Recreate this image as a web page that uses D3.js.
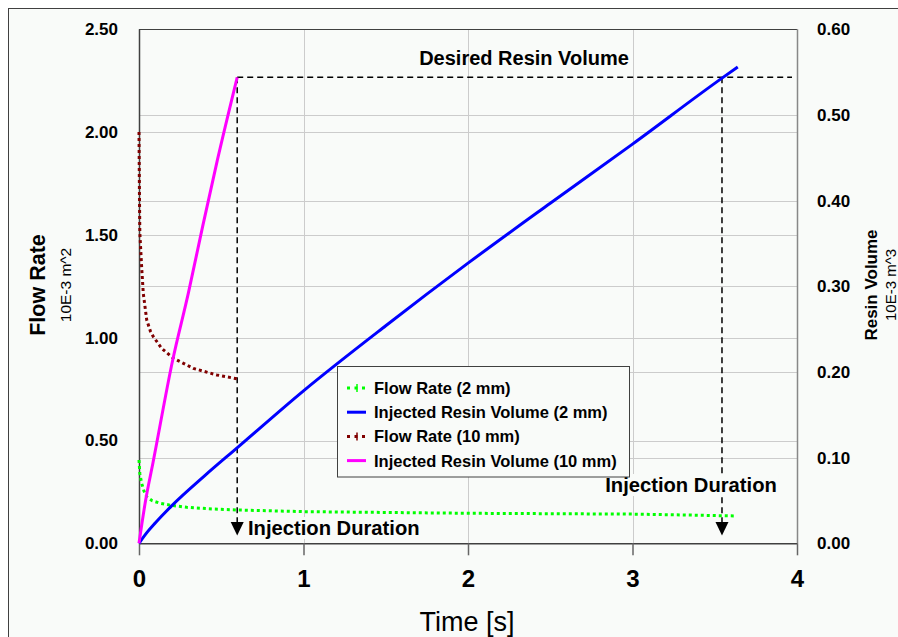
<!DOCTYPE html>
<html>
<head>
<meta charset="utf-8">
<script src="https://cdn.jsdelivr.net/npm/d3@7/dist/d3.min.js"></script>
<style>
  html, body { margin: 0; padding: 0; background: #ffffff; }
  svg { display: block; }
  text { font-family: "Liberation Sans", Arial, sans-serif; fill: #000; }
</style>
</head>
<body>
<svg id="chart" width="898" height="637"></svg>
<script>
// ---------- data ----------
const xTicks = [0, 1, 2, 3, 4];
const leftTicks = [0, 0.5, 1.0, 1.5, 2.0, 2.5];
const rightTicks = [0, 0.1, 0.2, 0.3, 0.4, 0.5, 0.6];

// Flow Rate (2 mm) [left axis, 10E-3 m^2]
const flow2mm = [
  [0, 0.405], [0.005, 0.34], [0.016, 0.292], [0.03, 0.255], [0.047, 0.227],
  [0.08, 0.207], [0.128, 0.195], [0.2, 0.184], [0.29, 0.175], [0.45, 0.167],
  [0.6, 0.162], [1.0, 0.154], [1.5, 0.150], [2.0, 0.146], [2.5, 0.144],
  [3.0, 0.142], [3.3, 0.138], [3.63, 0.133]
];
// Injected Resin Volume (2 mm) [right axis, 10E-3 m^3]
const volume2mm = [
  [0, 0], [0.05, 0.013], [0.1, 0.024], [0.2, 0.044], [0.4, 0.079],
  [0.6, 0.112], [1.0, 0.178], [1.5, 0.254], [2.0, 0.327], [2.5, 0.397],
  [3.0, 0.466], [3.544, 0.543], [3.64, 0.556]
];
// Flow Rate (10 mm) [left axis]
const flow10mm = [
  [0, 2.00], [0.003, 1.67], [0.005, 1.51], [0.016, 1.345], [0.026, 1.216],
  [0.047, 1.086], [0.07, 1.03], [0.087, 1.005], [0.138, 0.948], [0.209, 0.90],
  [0.33, 0.851], [0.472, 0.819], [0.597, 0.800]
];
// Injected Resin Volume (10 mm) [right axis]
const volume10mm = [
  [0, 0], [0.04, 0.05], [0.085, 0.094], [0.205, 0.214], [0.30, 0.292],
  [0.387, 0.370], [0.476, 0.447], [0.597, 0.544]
];

const desiredVolume = 0.544;
const injectionDurations = [0.597, 3.544];

const legendLabels = [
  "Flow Rate (2 mm)",
  "Injected Resin Volume (2 mm)",
  "Flow Rate (10 mm)",
  "Injected Resin Volume (10 mm)"
];

// ---------- layout ----------
const svg = d3.select("#chart");
const plot = { left: 139, right: 797, top: 29.3, bottom: 543.3 };
const bg = "#f9fbf9";

const x = d3.scaleLinear().domain([0, 4]).range([plot.left, plot.right]);
const yL = d3.scaleLinear().domain([0, 2.5]).range([plot.bottom, plot.top]);
const yR = d3.scaleLinear().domain([0, 0.6]).range([plot.bottom, plot.top]);

// outer frame
svg.append("rect").attr("x", 8.5).attr("y", 8.5).attr("width", 1000).attr("height", 1000)
  .attr("fill", bg).attr("stroke", "#404040").attr("stroke-width", 1);

// grid
const grid = svg.append("g").attr("stroke", "#cccccc").attr("stroke-width", 1).attr("shape-rendering", "crispEdges");
leftTicks.forEach(v => grid.append("line").attr("x1", plot.left).attr("x2", plot.right)
  .attr("y1", Math.round(yL(v)) + 0.5).attr("y2", Math.round(yL(v)) + 0.5));
rightTicks.forEach(v => grid.append("line").attr("x1", plot.left).attr("x2", plot.right)
  .attr("y1", Math.round(yR(v)) + 0.5).attr("y2", Math.round(yR(v)) + 0.5));
xTicks.forEach(v => grid.append("line").attr("x1", Math.round(x(v)) + 0.5).attr("x2", Math.round(x(v)) + 0.5)
  .attr("y1", plot.top).attr("y2", plot.bottom));

// plot border (top/left dark, right gray)
svg.append("line").attr("x1", plot.left).attr("x2", plot.right).attr("y1", 29.5).attr("y2", 29.5)
  .attr("stroke", "#404040");
svg.append("line").attr("x1", plot.right + 0.5).attr("x2", plot.right + 0.5).attr("y1", plot.top).attr("y2", plot.bottom)
  .attr("stroke", "#888888").attr("stroke-width", 1.5);
svg.append("line").attr("x1", plot.left + 0.5).attr("x2", plot.left + 0.5).attr("y1", plot.top).attr("y2", plot.bottom)
  .attr("stroke", "#404040").attr("stroke-width", 1.5);

// axes
const xAxis = svg.append("g").attr("transform", `translate(0,${plot.bottom})`)
  .call(d3.axisBottom(x).tickValues(xTicks).tickSize(12).tickSizeOuter(0).tickPadding(15).tickFormat(d3.format("d")));
xAxis.select(".domain").attr("stroke", "#404040").attr("stroke-width", 1.5);
xAxis.selectAll(".tick line").attr("stroke", "#666666").attr("stroke-width", 1.5);
xAxis.selectAll(".tick text").attr("font-size", 24).attr("font-weight", "bold")
  .attr("font-family", "Liberation Sans, Arial, sans-serif").attr("fill", "#000");

const lAxis = svg.append("g").attr("transform", `translate(${plot.left},0)`)
  .call(d3.axisLeft(yL).tickValues(leftTicks).tickSize(0).tickPadding(21).tickFormat(d3.format(".2f")));
lAxis.select(".domain").remove();
lAxis.selectAll(".tick text").attr("font-size", 17).attr("font-weight", "bold")
  .attr("font-family", "Liberation Sans, Arial, sans-serif").attr("fill", "#000");

const rAxis = svg.append("g").attr("transform", `translate(${plot.right},0)`)
  .call(d3.axisRight(yR).tickValues(rightTicks).tickSize(0).tickPadding(20).tickFormat(d3.format(".2f")));
rAxis.select(".domain").remove();
rAxis.selectAll(".tick text").attr("font-size", 17).attr("font-weight", "bold")
  .attr("font-family", "Liberation Sans, Arial, sans-serif").attr("fill", "#000");

// dashed reference lines
const dash = svg.append("g").attr("stroke", "#000").attr("stroke-width", 1.5)
  .attr("stroke-dasharray", "6,4").attr("fill", "none");
dash.append("line").attr("x1", x(injectionDurations[0])).attr("x2", 792)
  .attr("y1", yR(desiredVolume)).attr("y2", yR(desiredVolume));
injectionDurations.forEach(t => dash.append("line").attr("x1", x(t)).attr("x2", x(t))
  .attr("y1", yR(desiredVolume)).attr("y2", 522));

// series
const lineL = d3.line().x(d => x(d[0])).y(d => yL(d[1]));
const lineR = d3.line().x(d => x(d[0])).y(d => yR(d[1])).curve(d3.curveMonotoneX);

svg.append("path").datum(flow2mm).attr("d", lineL).attr("fill", "none")
  .attr("stroke", "#00ff00").attr("stroke-width", 3).attr("stroke-dasharray", "3,3");
svg.append("path").datum(flow10mm).attr("d", lineL).attr("fill", "none")
  .attr("stroke", "#800000").attr("stroke-width", 3).attr("stroke-dasharray", "3,3");
svg.append("path").datum(volume2mm).attr("d", lineR).attr("fill", "none")
  .attr("stroke", "#0000ff").attr("stroke-width", 3).attr("stroke-linejoin", "round");
svg.append("path").datum(volume10mm).attr("d", lineR).attr("fill", "none")
  .attr("stroke", "#ff00ff").attr("stroke-width", 3).attr("stroke-linejoin", "round");

// arrows
injectionDurations.forEach(t => {
  const cx = x(t);
  svg.append("path").attr("d", `M${cx - 6.5},522 L${cx + 6.5},522 L${cx},535.5 Z`).attr("fill", "#000");
});

// labels with background
function boxedLabel(txt, tx, ty, anchor, size) {
  const g = svg.append("g");
  const r = g.append("rect").attr("fill", bg);
  const t = g.append("text").attr("x", tx).attr("y", ty).attr("text-anchor", anchor)
    .attr("font-size", size).attr("font-weight", "bold").text(txt);
  const b = t.node().getBBox();
  r.attr("x", b.x - 2).attr("y", b.y).attr("width", b.width + 4).attr("height", b.height);
}
boxedLabel("Injection Duration", 248, 535, "start", 20.2);
boxedLabel("Injection Duration", 691, 492, "middle", 20.2);
svg.append("text").attr("x", 524).attr("y", 65).attr("text-anchor", "middle")
  .attr("font-size", 20).attr("font-weight", "bold").text("Desired Resin Volume");

// legend
const lg = svg.append("g");
lg.append("rect").attr("x", 337.5).attr("y", 366.5).attr("width", 292).attr("height", 110.5)
  .attr("fill", bg).attr("stroke", "#404040").attr("stroke-width", 1);
const legendColors = ["#00ff00", "#0000ff", "#800000", "#ff00ff"];
const legendDotted = [true, false, true, false];
legendLabels.forEach((lab, i) => {
  const cy = 388 + i * 24.2;
  if (legendDotted[i]) {
    lg.append("line").attr("x1", 347).attr("x2", 366).attr("y1", cy).attr("y2", cy)
      .attr("stroke", legendColors[i]).attr("stroke-width", 3).attr("stroke-dasharray", "3,4.5");
    lg.append("line").attr("x1", 357).attr("x2", 357).attr("y1", cy - 4).attr("y2", cy + 4)
      .attr("stroke", legendColors[i]).attr("stroke-width", 1.5);
  } else {
    lg.append("line").attr("x1", 347).attr("x2", 366).attr("y1", cy).attr("y2", cy)
      .attr("stroke", legendColors[i]).attr("stroke-width", 3);
  }
  lg.append("text").attr("x", 374).attr("y", cy + 6).attr("font-size", 16.5).attr("font-weight", "bold").text(lab);
});

// axis titles
svg.append("text").attr("x", 467).attr("y", 631).attr("text-anchor", "middle")
  .attr("font-size", 27).text("Time [s]");
svg.append("text").attr("transform", "translate(45,285) rotate(-90)").attr("text-anchor", "middle")
  .attr("font-size", 21.5).attr("font-weight", "bold").text("Flow Rate");
svg.append("text").attr("transform", "translate(71,285) rotate(-90)").attr("text-anchor", "middle")
  .attr("font-size", 15.5).text("10E-3 m^2");
svg.append("text").attr("transform", "translate(877,285) rotate(-90)").attr("text-anchor", "middle")
  .attr("font-size", 17).attr("font-weight", "bold").text("Resin Volume");
svg.append("text").attr("transform", "translate(896,285) rotate(-90)").attr("text-anchor", "middle")
  .attr("font-size", 15).text("10E-3 m^3");
</script>
</body>
</html>
